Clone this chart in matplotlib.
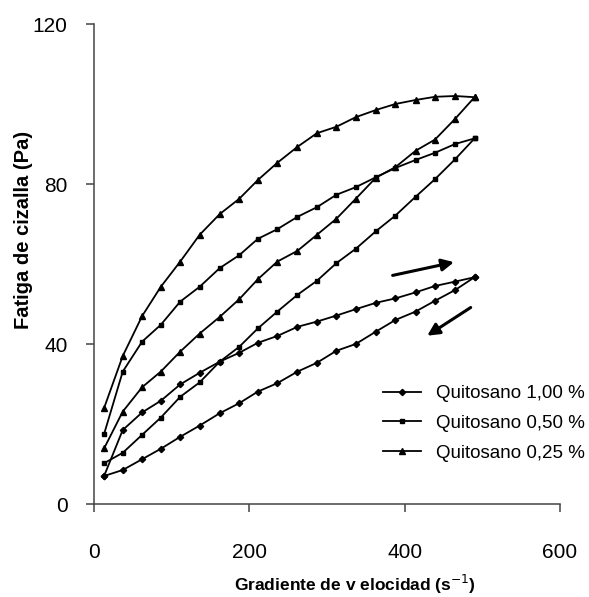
import matplotlib
matplotlib.use("Agg")
import matplotlib.pyplot as plt

plt.rcParams['font.family'] = ['Liberation Sans', 'DejaVu Sans']

# shear rate steps (s^-1), same for every branch
rate = [13, 37, 62, 86, 111, 136, 162, 187, 211, 236,
        262, 287, 312, 337, 363, 388, 414, 439, 465, 490]

# shear stress (Pa), up branch read left->right, down branch also left->right
q100_up = [7.0, 18.5, 22.9, 25.8, 29.9, 32.8, 35.6, 37.8, 40.3, 42.0,
           44.3, 45.6, 47.1, 48.7, 50.3, 51.4, 52.9, 54.5, 55.6, 56.7]
q100_down = [7.0, 8.5, 11.2, 13.8, 16.8, 19.6, 22.7, 25.2, 28.1, 30.2,
             33.1, 35.3, 38.3, 40.0, 43.1, 46.0, 48.1, 50.8, 53.5, 56.7]
q050_up = [17.5, 33.1, 40.6, 44.8, 50.6, 54.3, 59.0, 62.2, 66.3, 68.7,
           71.8, 74.2, 77.3, 79.2, 81.7, 84.0, 86.0, 87.8, 90.0, 91.4]
q050_down = [10.2, 12.8, 17.3, 21.6, 26.8, 30.4, 35.6, 39.3, 43.9, 48.1,
             52.3, 55.8, 60.2, 63.8, 68.2, 72.1, 76.8, 81.2, 86.2, 91.4]
q025_up = [24.0, 37.0, 47.0, 54.3, 60.6, 67.3, 72.5, 76.3, 81.0, 85.3,
           89.3, 92.7, 94.3, 96.7, 98.5, 100.0, 101.0, 101.8, 102.0, 101.7]
q025_down = [13.9, 23.1, 29.2, 33.1, 38.1, 42.6, 46.8, 51.2, 56.2, 60.6,
             63.3, 67.3, 71.3, 76.3, 81.6, 84.2, 88.3, 91.1, 96.3, 101.7]

labels = ["Quitosano 1,00 %", "Quitosano 0,50 %", "Quitosano 0,25 %"]
x_ticks = [0, 200, 400, 600]
y_ticks = [0, 40, 80, 120]

fig = plt.figure(figsize=(5.89, 5.97), dpi=100)
ax = fig.add_axes([94 / 589, 1 - 504 / 597, 466 / 589, 480 / 597])

series = [(q100_up, q100_down, 'D', 3.2),
          (q050_up, q050_down, 's', 3.4),
          (q025_up, q025_down, '^', 4.2)]
for (up, down, mk, ms), lab in zip(series, labels):
    xs = rate + rate[::-1]
    ys = up + down[::-1]
    ax.plot(xs, ys, color='black', lw=1.3, marker=mk, ms=ms,
            mfc='black', mec='black', label=lab)

# direction arrows
ax.annotate("", xy=(467, 60.6), xytext=(381, 57),
            arrowprops=dict(arrowstyle='-|>', color='black', lw=2.2, mutation_scale=18))
ax.annotate("", xy=(426, 41.7), xytext=(488, 49.5),
            arrowprops=dict(arrowstyle='-|>', color='black', lw=2.2, mutation_scale=18))

ax.set_xlim(0, 600)
ax.set_ylim(0, 120)
ax.set_xticks(x_ticks)
ax.set_yticks(y_ticks)
ax.spines['top'].set_visible(False)
ax.spines['right'].set_visible(False)
for s in ['left', 'bottom']:
    ax.spines[s].set_color('#444444')
    ax.spines[s].set_linewidth(1.1)
ax.tick_params(axis='both', direction='out', length=6, width=1.1,
               color='#444444', labelsize=15)
ax.tick_params(axis='y', pad=13)
ax.tick_params(axis='x', pad=22)

ax.set_xlabel("Gradiente de v elocidad (s$^{-1}$)", fontsize=12.5, fontweight='bold')
ax.xaxis.set_label_coords((355 - 94) / 466, (504 - 573) / 480)
ax.set_ylabel("Fatiga de cizalla (Pa)", fontsize=14.5, fontweight='bold')
ax.yaxis.set_label_coords((33 - 94) / 466, (504 - 230) / 480)

ax.legend(loc='upper left', bbox_to_anchor=(383 / 589, 1 - 385 / 597),
          bbox_transform=fig.transFigure, frameon=False, fontsize=13.5,
          handlelength=2.0, handletextpad=0.8, labelspacing=0.68,
          borderpad=0, borderaxespad=0)

fig.savefig("out.png", dpi=100)
